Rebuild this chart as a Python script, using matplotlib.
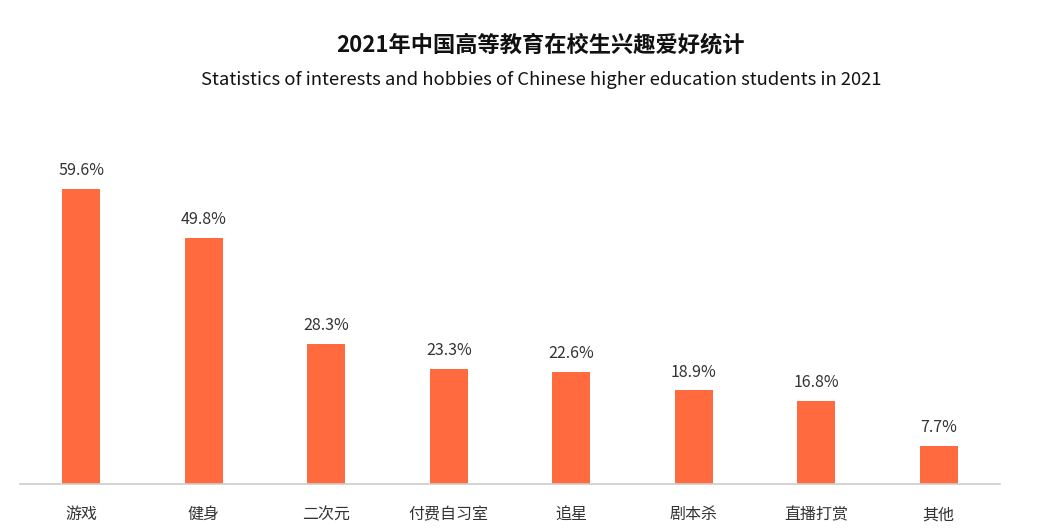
import matplotlib
matplotlib.use('Agg')
import matplotlib.pyplot as plt

plt.rcParams['font.family'] = ['Noto Sans CJK SC', 'DejaVu Sans']

# 数据
categories = ['游戏', '健身', '二次元', '付费自习室', '追星', '剧本杀', '直播打赏', '其他']
values = [59.6, 49.8, 28.3, 23.3, 22.6, 18.9, 16.8, 7.7]
title_cn = '2021年中国高等教育在校生兴趣爱好统计'
title_en = 'Statistics of interests and hobbies of Chinese higher education students in 2021'

BAR_COLOR = '#FF6A3F'
TEXT_COLOR = '#333333'

fig = plt.figure(figsize=(10.4, 5.3), dpi=100)
ax = fig.add_axes([20 / 1040, 46 / 530, 980 / 1040, 334 / 530])

x = range(len(categories))
ax.bar(x, values, width=0.31, color=BAR_COLOR)

for i, v in zip(x, values):
    ax.annotate(f'{v}%', (i, v), xytext=(0, 7), textcoords='offset points',
                ha='center', va='bottom', fontsize=11.5, color=TEXT_COLOR)

ax.set_xlim(-0.5, 7.5)
ax.set_ylim(0, 67.5)
ax.set_xticks(list(x))
ax.set_xticklabels(categories, fontsize=11.5, color=TEXT_COLOR)
ax.tick_params(axis='x', length=0, pad=16)
ax.set_yticks([])

for side in ['top', 'right', 'left']:
    ax.spines[side].set_visible(False)
ax.spines['bottom'].set_color('#cccccc')
ax.spines['bottom'].set_linewidth(1.2)

fig.text(0.52, 1 - 45 / 530, title_cn, ha='center', va='center',
         fontsize=16, fontweight='bold', color='#111111')
fig.text(0.52, 1 - 80 / 530, title_en, ha='center', va='center',
         fontsize=13.3, color='#111111')

fig.savefig('out.png', dpi=100, facecolor='white')
